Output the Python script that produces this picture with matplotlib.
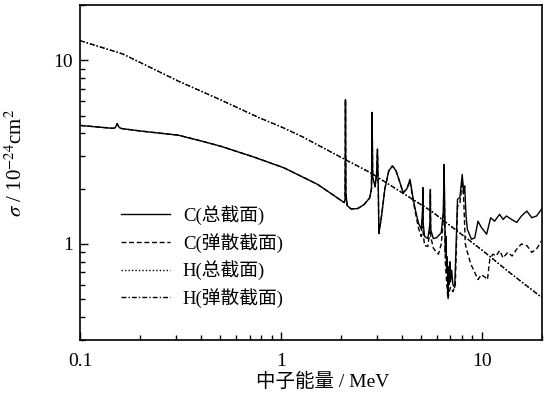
import matplotlib
matplotlib.use("Agg")
import matplotlib.pyplot as plt
from matplotlib.ticker import NullFormatter, LogLocator

plt.rcParams["font.family"] = ["Liberation Serif", "Noto Sans CJK SC"]
plt.rcParams["mathtext.fontset"] = "stix"

# C total cross section (MeV, barn)
e_c_total = [0.1, 0.146, 0.150, 0.153, 0.157, 0.161, 0.2, 0.309, 0.4, 0.5, 0.73,
             1.035, 1.526, 2.07, 2.09, 2.10, 2.11, 2.14, 2.24, 2.42, 2.6, 2.77,
             2.83, 2.85, 2.87, 2.95, 3.0, 3.03, 3.06, 3.08, 3.12, 3.16, 3.3, 3.45,
             3.6, 3.75, 3.9, 4.07, 4.25, 4.4, 4.55, 4.67, 4.85, 5.01, 5.08, 5.1,
             5.12, 5.2, 5.4, 5.54, 5.56, 5.58, 5.75, 5.96, 6.3, 6.45, 6.51, 6.55,
             6.6, 6.65, 6.7, 6.75, 6.8, 6.85, 6.9, 6.95, 7.0, 7.1, 7.2, 7.35, 7.45,
             7.59, 7.8, 8.01, 8.15, 8.24, 8.37, 8.5, 8.91, 9.25, 9.6, 9.98, 10.6,
             11.1, 11.6, 12.3, 12.8, 13.3, 14.1, 14.96, 15.8, 16.8, 17.8, 18.8, 20.0]
c_total = [4.42, 4.26, 4.3, 4.52, 4.3, 4.25, 4.12, 3.91, 3.64, 3.41, 2.98,
           2.60, 2.11, 1.68, 1.75, 6.1, 1.9, 1.62, 1.55, 1.56, 1.64, 1.78,
           2.0, 5.2, 2.3, 2.05, 2.4, 3.28, 2.0, 1.14, 1.25, 1.36, 2.0, 2.5,
           2.66, 2.5, 2.2, 1.9, 2.0, 2.25, 1.8, 1.55, 1.3, 1.2, 1.5, 2.03,
           1.3, 1.1, 1.07, 1.3, 1.98, 1.2, 1.07, 1.08, 1.15, 1.5, 2.71, 1.6,
           0.9, 1.1, 0.7, 0.85, 0.52, 0.75, 0.6, 0.8, 0.62, 0.72, 0.6, 0.58, 0.9,
           1.75, 1.79, 2.39, 1.9, 2.07, 1.42, 1.2, 1.06, 1.08, 1.33, 1.23, 1.13,
           1.39, 1.33, 1.45, 1.36, 1.42, 1.36, 1.31, 1.42, 1.51, 1.39, 1.42, 1.56]

# C elastic cross section: same as total below ~4.5 MeV
e_c_elastic = [0.1, 0.146, 0.150, 0.153, 0.157, 0.161, 0.2, 0.309, 0.4, 0.5, 0.73,
               1.035, 1.526, 2.07, 2.09, 2.10, 2.11, 2.14, 2.24, 2.42, 2.6, 2.77,
               2.83, 2.85, 2.87, 2.95, 3.0, 3.03, 3.06, 3.08, 3.12, 3.16, 3.3, 3.45,
               3.6, 3.75, 3.9, 4.07, 4.25, 4.4, 4.55, 4.67, 4.85, 5.01, 5.08, 5.1,
               5.12, 5.2, 5.4, 5.54, 5.56, 5.58, 5.75, 5.96, 6.1, 6.3, 6.45, 6.51,
               6.55, 6.6, 6.7, 6.8, 6.9, 7.0, 7.2, 7.4, 7.59, 7.8, 8.01, 8.15, 8.3,
               8.5, 8.83, 9.25, 9.6, 9.98, 10.4, 10.7, 11.0, 11.4, 11.8, 12.3, 12.8,
               13.5, 14.2, 15.0, 15.8, 16.8, 17.8, 18.8, 19.9]
c_elastic = [4.42, 4.26, 4.3, 4.52, 4.3, 4.25, 4.12, 3.91, 3.64, 3.41, 2.98,
             2.60, 2.11, 1.68, 1.75, 6.1, 1.9, 1.62, 1.55, 1.56, 1.64, 1.78,
             2.0, 5.2, 2.3, 2.05, 2.4, 3.28, 2.0, 1.14, 1.25, 1.36, 2.0, 2.5,
             2.66, 2.5, 2.2, 1.9, 2.0, 2.2, 1.75, 1.5, 1.22, 1.1, 1.4, 1.9,
             1.15, 0.98, 0.97, 1.2, 1.85, 1.1, 0.95, 0.9, 0.88, 1.0, 1.35, 2.5,
             1.4, 0.8, 0.62, 0.5, 0.55, 0.58, 0.55, 0.6, 1.6, 1.65, 2.2, 1.75, 1.0,
             0.9, 0.78, 0.70, 0.64, 0.68, 0.66, 0.64, 0.83, 0.88, 0.86, 0.92, 0.84,
             0.9, 0.86, 0.94, 1.0, 0.98, 0.9, 0.94, 1.04]

# H total and elastic (practically identical)
e_h = [0.1, 0.164, 0.309, 0.5, 0.776, 1.0, 1.26, 2.16, 2.8, 5.62, 10.0, 14.0, 20.0]
h_total = [12.8, 10.8, 7.7, 6.1, 4.88, 4.35, 3.87, 2.83, 2.44, 1.51, 0.93, 0.69, 0.51]
h_elastic = [12.8, 10.8, 7.7, 6.1, 4.88, 4.35, 3.87, 2.83, 2.44, 1.51, 0.93, 0.69, 0.51]

labels = ["C(总截面)", "C(弹散截面)", "H(总截面)", "H(弹散截面)"]

fig = plt.figure(figsize=(5.52, 3.98), dpi=100)
ax = fig.add_axes([80 / 552, 1 - 340 / 398, 462 / 552, 335 / 398])

l1, = ax.plot(e_c_total, c_total, color="black", lw=1.0, ls="-")
l2, = ax.plot(e_c_elastic, c_elastic, color="black", lw=1.0, ls=(0, (3.5, 2)))
l3, = ax.plot(e_h, h_total, color="black", lw=1.0, ls=(0, (1, 1.5)))
l4, = ax.plot(e_h, h_elastic, color="black", lw=1.0, ls=(0, (3.5, 1.5, 1, 1.5)))

ax.set_xscale("log")
ax.set_yscale("log")
ax.set_xlim(0.1, 20)
ax.set_ylim(0.3, 20)

ax.set_xticks([0.1, 1, 10], ["0.1", "1", "10"])
ax.set_yticks([1, 10], ["1", "10"])
ax.xaxis.set_minor_locator(LogLocator(base=10, subs=range(2, 10)))
ax.yaxis.set_minor_locator(LogLocator(base=10, subs=range(2, 10)))
ax.xaxis.set_minor_formatter(NullFormatter())
ax.yaxis.set_minor_formatter(NullFormatter())
ax.tick_params(which="both", direction="in", top=False, right=False,
               labelsize=14, width=1.0)
ax.tick_params(which="major", length=6)
ax.tick_params(axis="x", which="major", pad=9)
ax.tick_params(axis="y", which="major", pad=5)
ax.tick_params(which="minor", length=3.5)
for s in ax.spines.values():
    s.set_linewidth(1.2)

ax.set_xlabel("中子能量 / MeV", fontsize=14)
ax.set_ylabel(r"$\sigma$ / 10$^{-24}$cm$^2$", fontsize=15)
ax.xaxis.set_label_coords(0.526, -0.098)
ax.yaxis.set_label_coords(-0.115, 0.53)

fig.legend([l1, l2, l3, l4], labels, loc="upper left",
           bbox_to_anchor=(121 / 552, 1 - 205 / 398), frameon=False,
           fontsize=13.5, handlelength=2.6, handletextpad=0.7,
           labelspacing=0.42, borderpad=0, borderaxespad=0)

fig.savefig("out.png", dpi=100)
